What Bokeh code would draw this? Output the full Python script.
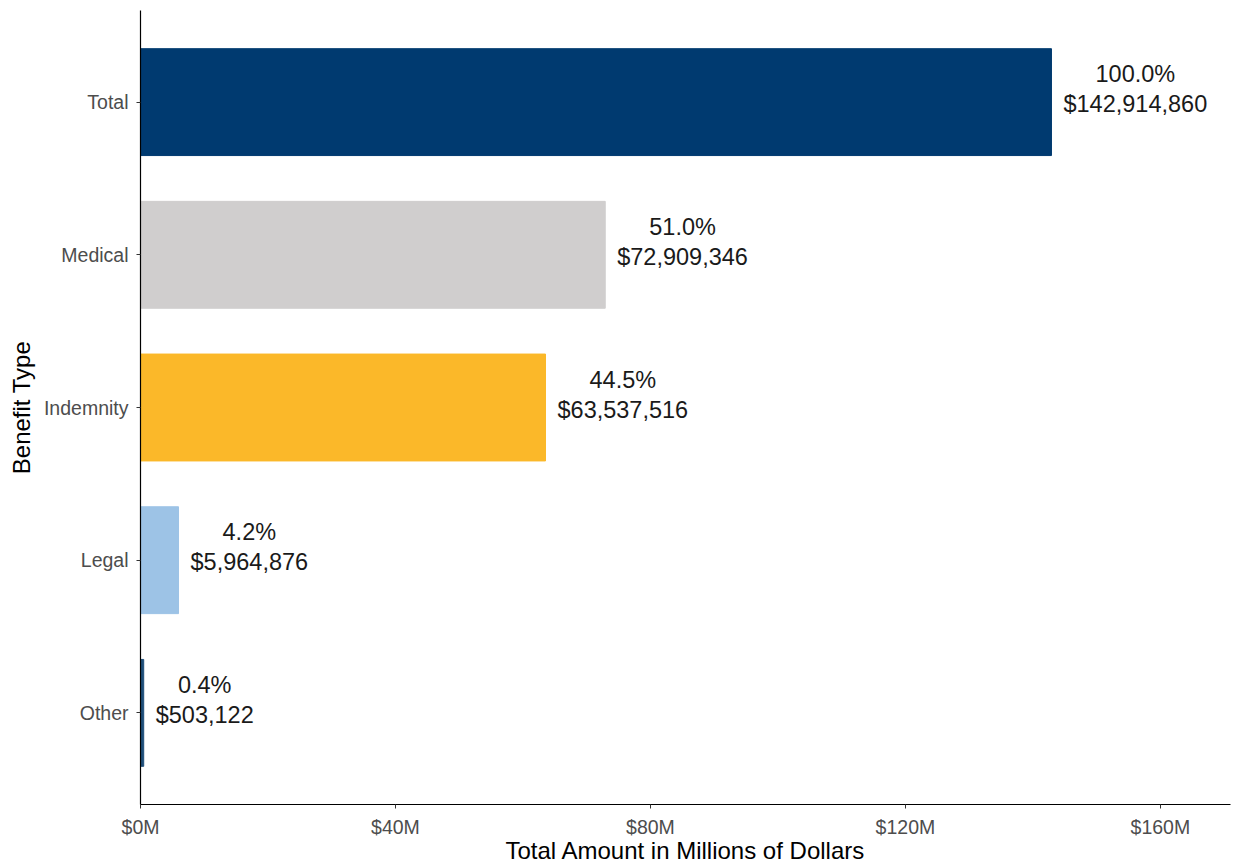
from bokeh.plotting import figure
from bokeh.models import ColumnDataSource, FactorRange, Range1d, FixedTicker, CustomJSTickFormatter
from bokeh.embed import file_html
from bokeh.resources import INLINE
from bokeh.core.properties import value

# ---- data ----
categories = ["Total", "Medical", "Indemnity", "Legal", "Other"]
amounts = [142914860, 72909346, 63537516, 5964876, 503122]
colors = ["#003A70", "#D0CECE", "#FBB829", "#9DC3E6", "#1F4E79"]
x_ticks = [0, 40e6, 80e6, 120e6, 160e6]

total = amounts[0]
pct_labels = ["%.1f%%" % (a / total * 100) for a in amounts]
dollar_labels = ["${:,}".format(a) for a in amounts]

FONT = "Liberation Sans"
LABEL_PX = 23.5

# approximate Arial/Liberation Sans advance widths (em) to centre two-line labels
_w = {c: 0.556 for c in "0123456789$"}
_w.update({",": 0.278, ".": 0.278, "%": 0.889})


def text_width(s, px):
    return sum(_w.get(ch, 0.556) for ch in s) * px


offsets = [12 + text_width(s, LABEL_PX) / 2 for s in dollar_labels]

src = ColumnDataSource(dict(cat=categories, amt=amounts, color=colors,
                            pct=pct_labels, dol=dollar_labels, off=offsets))

p = figure(width=1233, height=866, output_backend="svg", toolbar_location=None,
           y_range=FactorRange(factors=categories[::-1], range_padding=0.1,
                               range_padding_units="absolute"),
           x_range=Range1d(0, 171.0e6),
           min_border_left=140, min_border_right=3, min_border_top=10, min_border_bottom=0)

p.hbar(y="cat", right="amt", left=0, height=0.7, color="color", source=src)

p.text(x="amt", y="cat", text="dol", x_offset="off", y_offset=2, source=src,
       text_align="center", text_baseline="middle",
       text_font=value(FONT), text_font_size="%spx" % LABEL_PX, text_color="#1a1a1a")
p.text(x="amt", y="cat", text="pct", x_offset="off", y_offset=-28, source=src,
       text_align="center", text_baseline="middle",
       text_font=value(FONT), text_font_size="%spx" % LABEL_PX, text_color="#1a1a1a")

p.xaxis.ticker = FixedTicker(ticks=x_ticks)
p.xaxis.formatter = CustomJSTickFormatter(code="return '$' + (tick/1e6).toFixed(0) + 'M';")

for ax in (p.xaxis[0], p.yaxis[0]):
    ax.axis_line_color = "black"
    ax.axis_line_width = 1.2
    ax.major_tick_line_color = "#333333"
    ax.major_tick_in = 0
    ax.major_tick_out = 4
    ax.minor_tick_line_color = None
    ax.major_label_text_font = FONT
    ax.major_label_text_font_size = "19.5px"
    ax.major_label_text_color = "#4D4D4D"
    ax.axis_label_text_font = FONT
    ax.axis_label_text_font_size = "24px"
    ax.axis_label_text_font_style = "normal"
    ax.axis_label_text_color = "black"

p.xaxis.axis_label = "Total Amount in Millions of Dollars"
p.yaxis.axis_label = "Benefit Type"
p.xaxis.major_label_standoff = 7
p.xaxis.axis_label_standoff = -4
p.yaxis.major_label_standoff = 8
p.yaxis.axis_label_standoff = 6

p.xgrid.visible = False
p.ygrid.visible = False
p.outline_line_color = None
p.background_fill_color = "white"
p.border_fill_color = "white"

open("out.html", "w").write(file_html(p, INLINE))
